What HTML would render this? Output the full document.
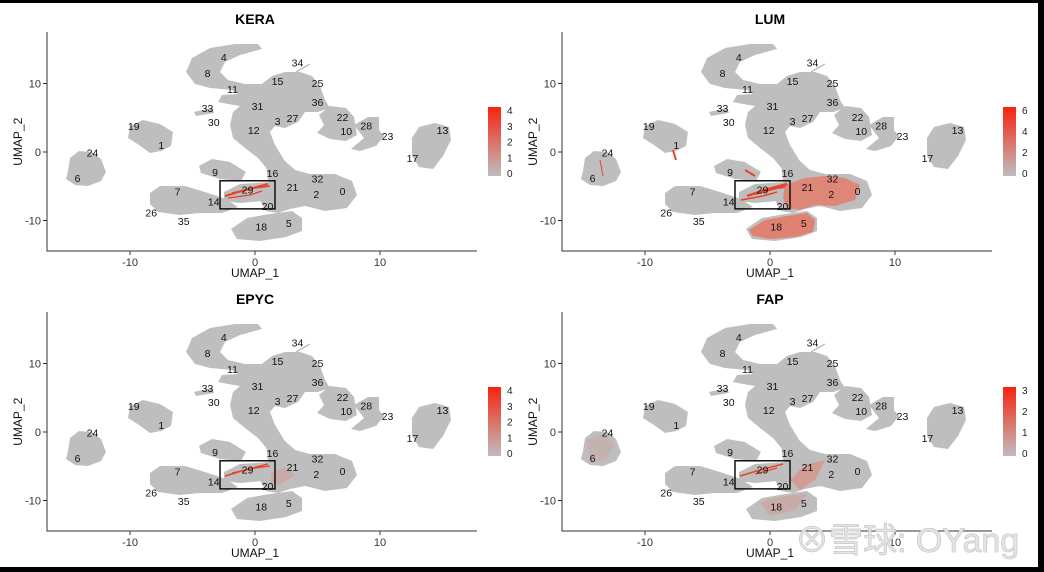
<!DOCTYPE html>
<html><head><meta charset="utf-8"><style>
html,body{margin:0;padding:0;background:#fff;}
svg{display:block;font-family:"Liberation Sans",sans-serif;}
</style></head><body>
<svg id="fig" width="1044" height="572" viewBox="0 0 1044 572">
<rect x="0" y="0" width="1044" height="572" fill="#fff"/>
</svg>
<script>
// ---- chart data ----
const genes = ["KERA","LUM","EPYC","FAP"];
const legendMax = [4,6,4,3];
const legendTicks = [[0,1,2,3,4],[0,2,4,6],[0,1,2,3,4],[0,1,2,3]];
const xTicks = [-10,0,10];
const yTicks = [-10,0,10];
const clusterIds = ["4","8","11","31","15","34","25","36","33","30","3","27","12","22","10","28","23","13","17","19","1","24","6","9","16","32","21","2","0","29","14","20","7","26","35","18","5"];
const clusterX = [-2.5,-3.8,-1.8,0.2,1.8,3.4,5.0,5.0,-3.8,-3.3,1.8,3.0,-0.1,7.0,7.3,8.9,10.6,15.0,12.6,-9.7,-7.5,-13.0,-14.2,-3.2,1.4,5.0,3.0,4.9,7.0,-0.6,-3.3,1.0,-6.2,-8.3,-5.7,0.5,2.7];
const clusterY = [13.9,11.5,9.2,6.7,10.4,13.1,10.1,7.3,6.4,4.4,4.5,5.0,3.2,5.1,3.1,3.9,2.3,3.2,-0.9,3.8,1.0,-0.1,-3.8,-2.9,-3.1,-3.9,-5.1,-6.1,-5.7,-5.5,-7.2,-7.9,-5.8,-8.8,-10.1,-10.9,-10.4];
const boxUmap = [-2.8,-4.2,1.6,-8.3];

// ---- layout ----
const NS="http://www.w3.org/2000/svg";
const svg=document.getElementById('fig');
const panels=[{dx:0,dy:0},{dx:515,dy:0},{dx:0,dy:280},{dx:515,dy:280}];
function sx(v){return 255+12.5*v;}
function sy(v){return 152-6.85*v;}
function mk(tag,attrs,parent){const e=document.createElementNS(NS,tag);for(const k in attrs)e.setAttribute(k,attrs[k]);(parent||svg).appendChild(e);return e;}

const blobs=[
"186,72 192,58 210,48 235,44 258,44 262,49 240,55 225,62 220,72 228,80 245,84 262,84 272,76 285,72 300,72 312,76 320,86 325,100 330,108 318,112 305,112 298,122 285,128 275,126 270,132 275,145 283,158 290,172 280,177 268,170 258,158 245,148 233,138 230,125 233,112 240,106 228,104 218,102 222,95 238,94 232,90 210,88 195,84",
"266,165 284,160 295,170 310,174 335,174 352,181 357,195 347,208 325,211 305,206 290,209 278,213 266,211 260,200 273,190 268,180",
"231,229 247,218 270,214 292,211 302,218 302,231 286,237 260,241 237,239",
"150,193 160,186 185,186 205,192 226,199 238,207 222,213 200,213 180,215 158,212 150,204",
"199,166 212,159 230,162 246,172 241,181 220,179 201,173",
"224,192 240,184 270,182 276,190 262,201 240,203 224,201",
"128,138 130,126 143,120 160,124 173,132 171,146 161,151 150,153 139,145",
"68,171 70,158 79,151 92,152 101,159 106,172 101,181 88,186 75,185 66,179",
"319,115 330,106 346,108 354,117 357,135 346,141 330,139 317,133 324,125",
"354,125 368,117 379,117 379,130 384,136 376,146 360,151 351,149 364,138",
"412,138 419,127 435,123 449,127 451,140 443,156 433,169 419,167 412,156",
"194,112 212,108 214,113 196,116"
];
const redSets=[
 [{t:'l',p:"225,196 245,190 268,184",w:2},{t:'l',p:"232,193 255,188 270,186",w:1.5},{t:'l',p:"228,198 250,195 262,191",w:1.2}],
 [{t:'f',p:"270,185 290,178 310,176 330,178 345,185 340,200 320,206 300,205 285,210 272,208 268,198",o:0.75},
  {t:'f',p:"234,230 250,220 272,216 292,213 300,220 298,232 280,237 255,239 238,236",o:0.8},
  {t:'l',p:"232,196 250,190 272,184",w:2.5},{t:'l',p:"240,194 262,188 270,187",w:2},{t:'l',p:"226,200 248,196 262,192",w:1.5},
  {t:'l',p:"230,170 240,176",w:2},{t:'l',p:"158,150 161,160",w:2},{t:'l',p:"85,160 88,176",w:1}],
 [{t:'l',p:"225,196 245,190 268,184",w:1.5},{t:'l',p:"232,193 255,188 270,186",w:1.2},{t:'f',p:"272,192 285,188 295,195 280,205 270,205",o:0.25}],
 [{t:'l',p:"225,196 245,190 268,184",w:1.5},{t:'l',p:"240,194 262,188",w:1.2},
  {t:'f',p:"275,200 290,185 310,180 300,200 285,210",o:0.45},{t:'f',p:"245,222 270,216 292,214 280,230 255,236",o:0.25},
  {t:'f',p:"72,160 90,154 100,165 90,180 75,182",o:0.15}]
];

genes.forEach((g,i)=>{
  const P=panels[i];
  const G=mk('g',{transform:`translate(${P.dx},${P.dy})`});
  
  
  const t=mk('text',{x:sx(0),y:24,'text-anchor':'middle','font-size':14,'font-weight':'bold',fill:'#000'},G);t.textContent=g;
  
  
  blobs.forEach(b=>{const p=mk('polygon',{points:b,fill:'#bebebe'},G);
    
    });
  mk('line',{x1:296,y1:72,x2:310,y2:64,stroke:'#bebebe','stroke-width':1.5},G);
  redSets[i].forEach(r=>{
    let e;
    if(r.t==='f') e=mk('polygon',{points:r.p,fill:'#e8735f','fill-opacity':r.o},G);
    else e=mk('polyline',{points:r.p,fill:'none',stroke:'#e8422a','stroke-width':r.w},G);
    
    
  });
  clusterIds.forEach((c,k)=>{
    const l=mk('text',{x:sx(clusterX[k]),y:sy(clusterY[k])+4,'text-anchor':'middle','font-size':10.5,fill:'#111'},G);l.textContent=c;
    
    
  });
  const bx=mk('rect',{x:sx(boxUmap[0]),y:sy(boxUmap[1]),width:sx(boxUmap[2])-sx(boxUmap[0]),height:sy(boxUmap[3])-sy(boxUmap[1]),fill:'none',stroke:'#111','stroke-width':1.5},G);
  
  
  const ax=mk('path',{d:`M47,32 V251 H477`,fill:'none',stroke:'#333','stroke-width':1},G);
  
  
  xTicks.forEach(v=>{mk('line',{x1:sx(v),x2:sx(v),y1:251,y2:255,stroke:'#333'},G);
    const tl=mk('text',{x:sx(v),y:266,'text-anchor':'middle','font-size':11,fill:'#333'},G);tl.textContent=v;
    
    });
  yTicks.forEach(v=>{mk('line',{x1:43,x2:47,y1:sy(v),y2:sy(v),stroke:'#333'},G);
    const tl=mk('text',{x:41,y:sy(v)+4,'text-anchor':'end','font-size':11,fill:'#333'},G);tl.textContent=v;
    
    });
  const xt=mk('text',{x:sx(0),y:277,'text-anchor':'middle','font-size':12,fill:'#111'},G);xt.textContent='UMAP_1';
  
  
  const yt=mk('text',{x:0,y:0,'text-anchor':'middle','font-size':12,fill:'#111',transform:`translate(22,${sy(1.5)}) rotate(-90)`},G);yt.textContent='UMAP_2';
  
  
  const gid='grad'+i;
  const d=mk('linearGradient',{id:gid,x1:0,y1:1,x2:0,y2:0},G);
  mk('stop',{offset:'0','stop-color':'#bebebe'},d);mk('stop',{offset:'1','stop-color':'#f8230f'},d);
  const top=110, bot=173, mx=legendMax[i];
  const lr=mk('rect',{x:488,y:top-3,width:13,height:bot-top+6,fill:`url(#${gid})`},G);
  
  
  legendTicks[i].forEach(v=>{const yy=bot-(bot-top)*v/mx;
    const lt=mk('text',{x:507,y:yy+4,'font-size':10,fill:'#222'},G);lt.textContent=v;
    
    });
});
mk('rect',{x:0,y:0,width:1044,height:3,fill:'#000'});
mk('rect',{x:1038,y:0,width:6,height:572,fill:'#000'});
mk('rect',{x:0,y:567,width:1044,height:5,fill:'#000'});
const wm=mk('text',{x:795,y:552,'font-size':34,fill:'#e6e6e6',stroke:'#c8c8c8','stroke-width':0.8,'font-family':'"Liberation Sans","Noto Sans CJK SC",sans-serif'});
wm.textContent='⊗雪球: OYang';


</script>
</body></html>
